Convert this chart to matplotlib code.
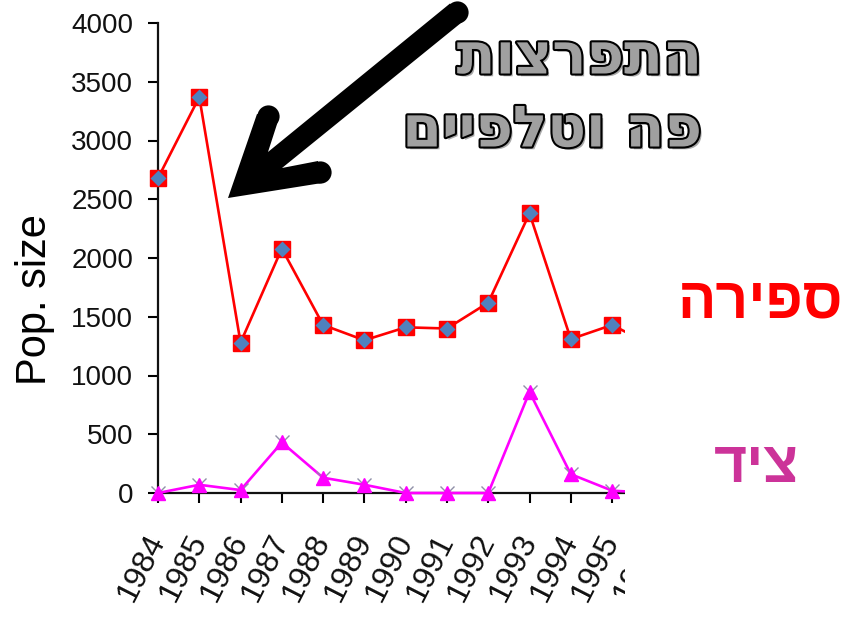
import matplotlib.pyplot as plt
import matplotlib.patheffects as pe
from matplotlib.patches import Rectangle, Polygon
from matplotlib.lines import Line2D

years = [1984, 1985, 1986, 1987, 1988, 1989, 1990, 1991, 1992, 1993, 1994, 1995, 1996]
count = [2680, 3370, 1280, 2080, 1430, 1300, 1410, 1400, 1620, 2380, 1310, 1430, 1250]
hunt = [0, 70, 25, 430, 130, 70, 0, 0, 0, 860, 160, 20, 0]
y_ticks = [0, 500, 1000, 1500, 2000, 2500, 3000, 3500, 4000]

outbreak_lines = ["התפרצות", "פה וטלפיים"]
count_label = "ספירה"
hunt_label = "ציד"
y_label = "Pop. size"

W, H = 855, 635


def px(x, y):
    # pixel position (from top-left) -> figure fraction
    return x / W, 1 - y / H


def rtl(s):
    # matplotlib draws left to right, so flip Hebrew to visual order
    return s[::-1]


plt.rcParams['font.family'] = ['Liberation Sans', 'DejaVu Sans']

fig = plt.figure(figsize=(W / 100, H / 100), dpi=100)
ax = fig.add_axes([158 / W, 1 - 493 / H, (674 - 158) / W, 470 / H])

ax.plot(years, count, color='red', lw=1.9, zorder=3, clip_on=False)
ax.plot(years, count, ls='none', marker='s', ms=12, mfc='red', mec='red', zorder=4, clip_on=False)
ax.plot(years, count, ls='none', marker='D', ms=8, mfc='#4F81BD', mec='none', zorder=5, clip_on=False)

ax.plot(years, hunt, color='#FF00FF', lw=1.9, zorder=3, clip_on=False)
ax.plot(years, hunt, ls='none', marker='x', ms=10, mew=1, mec='#9090A8', zorder=4, clip_on=False)
ax.plot(years, hunt, ls='none', marker='^', ms=10, mfc='#FF00FF', mec='#FF00FF', zorder=5, clip_on=False)

ax.set_xlim(1984, 1996.5)
ax.set_ylim(0, 4000)
ax.set_xticks(years)
ax.set_xticklabels([str(y) for y in years])
ax.set_yticks(y_ticks)

for side in ['top', 'right']:
    ax.spines[side].set_visible(False)
for side in ['left', 'bottom']:
    ax.spines[side].set_linewidth(1.6)
    ax.spines[side].set_color('#111111')

ax.tick_params(axis='y', direction='out', length=7, width=1.5, pad=11, labelsize=20, labelcolor='#111111')
ax.tick_params(axis='x', direction='out', length=7, width=1.5, pad=24, labelsize=23, labelcolor='#111111')
plt.setp(ax.get_xticklabels(), rotation=63, ha='right', va='center', rotation_mode='anchor')

fig.text(35 / W, 1 - 300 / H, y_label, rotation=90, fontsize=30, ha='center', va='center')

# the original picture was cropped on the right
fig.add_artist(Rectangle((625 / W, 0), 1 - 625 / W, 1, transform=fig.transFigure,
                         facecolor='white', edgecolor='none', zorder=5))

# big black arrow: one outline plus round ends
arrow_outline = [px(228, 198), px(257, 114), px(279, 118), px(268, 152),
                 px(450, 3.5), px(464, 20.5), px(282, 168),
                 px(318, 161), px(322, 183)]
fig.add_artist(Polygon(arrow_outline, closed=True, transform=fig.transFigure,
                       facecolor='black', edgecolor='none', zorder=6))
for cx, cy in [(457, 12), (268, 116), (320, 172)]:
    fx, fy = px(cx, cy)
    fig.add_artist(Line2D([fx], [fy], transform=fig.transFigure, ls='none', marker='o',
                          ms=16, mfc='black', mec='none', zorder=6))

title_fx = [pe.SimplePatchShadow(offset=(2, -2), shadow_rgbFace='#555555', alpha=0.5),
            pe.Stroke(linewidth=3, foreground='black'), pe.Normal()]
for line, yy in zip(outbreak_lines, [58, 131]):
    fig.text(702 / W, 1 - yy / H, rtl(line), fontsize=41, fontweight='bold', color='#A0A0A0',
             family=['DejaVu Sans'], ha='right', va='center', path_effects=title_fx, zorder=7)

fig.text(761 / W, 1 - 302 / H, rtl(count_label), fontsize=41, fontweight='bold', color='red',
         ha='center', va='center', zorder=7)
fig.text(756 / W, 1 - 467 / H, rtl(hunt_label), fontsize=41, fontweight='bold', color='#CC3399',
         ha='center', va='center', zorder=7)

fig.savefig('out.png', dpi=100)
